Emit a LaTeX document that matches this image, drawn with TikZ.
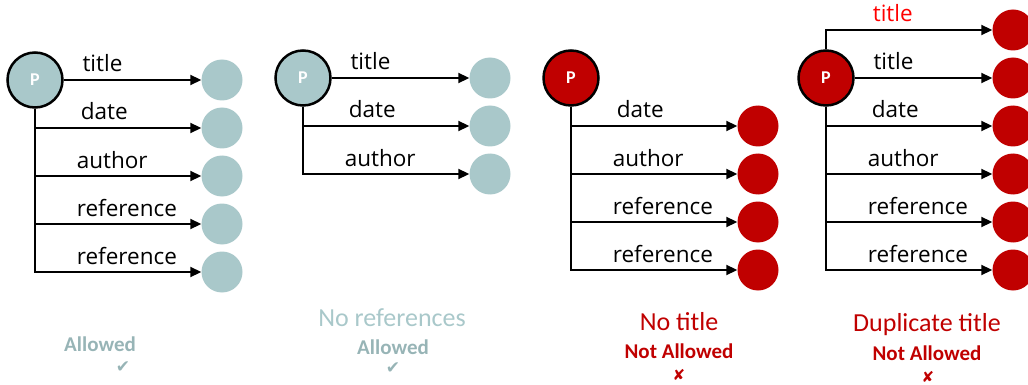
\documentclass[tikz,border=0pt]{standalone}
\usepackage{fontspec}
\setmainfont{Carlito}
\newfontfamily\lblfont{Open Sans}
\newfontfamily\symfont{DejaVu Sans}
\usetikzlibrary{arrows.meta}

\definecolor{propgray}{HTML}{A9C8CA}
\definecolor{verdictgray}{HTML}{97B4B6}
\definecolor{propred}{HTML}{C00000}
\definecolor{dupred}{HTML}{FF0000}

\begin{document}
\begin{tikzpicture}[x=1pt,y=-1pt,
    prop/.style={circle,draw=black,line width=2.5pt,minimum size=55pt,inner sep=0pt,text=white,font=\bfseries\fontsize{18}{18}\selectfont},
    val/.style={circle,minimum size=41pt,inner sep=0pt},
    link/.style={line width=1.8pt,-{Triangle[length=11pt,width=10pt]}},
    lbl/.style={anchor=base west,inner sep=0pt,yshift=8pt,font=\lblfont\fontsize{22.5}{22.5}\selectfont},
    caption/.style={inner sep=0pt,font=\fontsize{26}{26}\selectfont},
    verdict/.style={inner sep=0pt,font=\bfseries\fontsize{21}{21}\selectfont},
    tickmark/.style={inner sep=0pt,font=\symfont\fontsize{17}{17}\selectfont},
    crossmark/.style={inner sep=0pt,font=\symfont\fontsize{15}{15}\selectfont}]
        \clip (0,0) rectangle (1028,385);
        % allowed
        \node[prop,fill=propgray] (pA) at (35,80) {P};
        \node[val,fill=propgray] (tA1) at (222,80) {};
        \node[val,fill=propgray] (tA2) at (222,128) {};
        \node[val,fill=propgray] (tA3) at (222,176) {};
        \node[val,fill=propgray] (tA4) at (222,224) {};
        \node[val,fill=propgray] (tA5) at (222,272) {};
        \draw[link] (pA) -- node[lbl,pos=0.13] {title} (tA1);
        \draw[link] (pA.south) |- node[lbl,pos=0.635] {date} (tA2.west);
        \draw[link] (pA.south) |- node[lbl,pos=0.623] {author} (tA3.west);
        \draw[link] (pA.south) |- node[lbl,pos=0.623] {reference} (tA4.west);
        \draw[link] (pA.south) |- node[lbl,pos=0.623] {reference} (tA5.west);
        \node[verdict,text=verdictgray] (vA) at (100,344) {Allowed};
        \node[tickmark,text=verdictgray] (mA) at (123,367) {✔};
        % no references
        \node[prop,fill=propgray] (pB) at (303,78) {P};
        \node[val,fill=propgray] (tB1) at (490,78) {};
        \node[val,fill=propgray] (tB2) at (490,126) {};
        \node[val,fill=propgray] (tB3) at (490,174) {};
        \draw[link] (pB) -- node[lbl,pos=0.13] {title} (tB1);
        \draw[link] (pB.south) |- node[lbl,pos=0.635] {date} (tB2.west);
        \draw[link] (pB.south) |- node[lbl,pos=0.623] {author} (tB3.west);
        \node[caption,text=propgray] (cB) at (392,318) {No references};
        \node[verdict,text=verdictgray] (vB) at (393,347) {Allowed};
        \node[tickmark,text=verdictgray] (mB) at (393,368) {✔};
        % no title
        \node[prop,fill=propred] (pC) at (571,78) {P};
        \node[val,fill=propred] (tC1) at (758,126) {};
        \node[val,fill=propred] (tC2) at (758,174) {};
        \node[val,fill=propred] (tC3) at (758,222) {};
        \node[val,fill=propred] (tC4) at (758,270) {};
        \draw[link] (pC.south) |- node[lbl,pos=0.635] {date} (tC1.west);
        \draw[link] (pC.south) |- node[lbl,pos=0.623] {author} (tC2.west);
        \draw[link] (pC.south) |- node[lbl,pos=0.623] {reference} (tC3.west);
        \draw[link] (pC.south) |- node[lbl,pos=0.623] {reference} (tC4.west);
        \node[caption,text=propred] (cC) at (679,322) {No title};
        \node[verdict,text=propred] (vC) at (679,351) {Not Allowed};
        \node[crossmark,text=propred] (mC) at (679,375) {✘};
        % duplicate title
        \node[prop,fill=propred] (pD) at (826,78) {P};
        \node[val,fill=propred] (tD0) at (1013,30) {};
        \node[val,fill=propred] (tD1) at (1013,78) {};
        \node[val,fill=propred] (tD2) at (1013,126) {};
        \node[val,fill=propred] (tD3) at (1013,174) {};
        \node[val,fill=propred] (tD4) at (1013,222) {};
        \node[val,fill=propred] (tD5) at (1013,270) {};
        \draw[link] (pD.north) |- node[lbl,pos=0.638,text=dupred] {title} (tD0.west);
        \draw[link] (pD) -- node[lbl,pos=0.13] {title} (tD1);
        \draw[link] (pD.south) |- node[lbl,pos=0.635] {date} (tD2.west);
        \draw[link] (pD.south) |- node[lbl,pos=0.623] {author} (tD3.west);
        \draw[link] (pD.south) |- node[lbl,pos=0.623] {reference} (tD4.west);
        \draw[link] (pD.south) |- node[lbl,pos=0.623] {reference} (tD5.west);
        \node[caption,text=propred] (cD) at (927,325) {Duplicate title};
        \node[verdict,text=propred] (vD) at (927,353) {Not Allowed};
        \node[crossmark,text=propred] (mD) at (928,377) {✘};
\end{tikzpicture}
\end{document}
